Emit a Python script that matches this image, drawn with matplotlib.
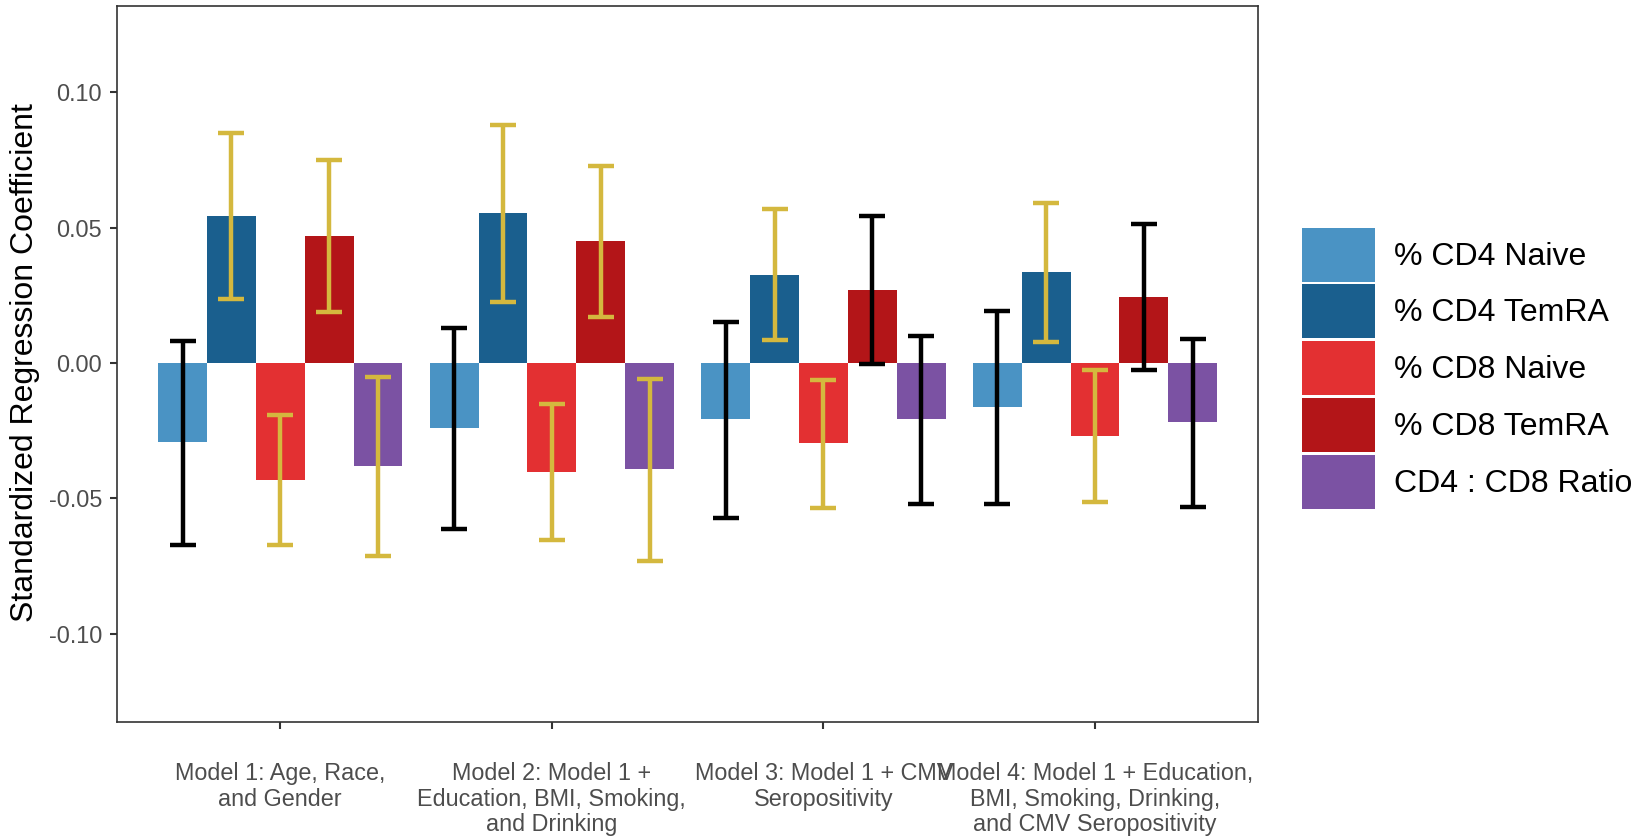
import matplotlib
matplotlib.use("Agg")
import matplotlib.pyplot as plt
from matplotlib.patches import Patch
import numpy as np

plt.rcParams['font.family'] = ['Liberation Sans', 'DejaVu Sans']

# Models on the x axis
models = [
    "Model 1: Age, Race,\nand Gender",
    "Model 2: Model 1 +\nEducation, BMI, Smoking,\nand Drinking",
    "Model 3: Model 1 + CMV\nSeropositivity",
    "Model 4: Model 1 + Education,\nBMI, Smoking, Drinking,\nand CMV Seropositivity",
]

cell_types = ["% CD4 Naive", "% CD4 TemRA", "% CD8 Naive", "% CD8 TemRA", "CD4 : CD8 Ratio"]
bar_colors = ["#4A93C4", "#1A5F8E", "#E33032", "#B31518", "#7B52A3"]

# Standardized coefficients and 95% CI bounds, one value per model
cd4_naive_est = [-0.0290, -0.0239, -0.0208, -0.0164]
cd4_naive_lo = [-0.0671, -0.0614, -0.0573, -0.0522]
cd4_naive_hi = [0.0081, 0.0129, 0.0150, 0.0192]

cd4_temra_est = [0.0543, 0.0555, 0.0325, 0.0335]
cd4_temra_lo = [0.0235, 0.0224, 0.0084, 0.0076]
cd4_temra_hi = [0.0851, 0.0881, 0.0568, 0.0592]

cd8_naive_est = [-0.0433, -0.0402, -0.0297, -0.0268]
cd8_naive_lo = [-0.0673, -0.0655, -0.0537, -0.0514]
cd8_naive_hi = [-0.0192, -0.0151, -0.0061, -0.0026]

cd8_temra_est = [0.0470, 0.0452, 0.0268, 0.0243]
cd8_temra_lo = [0.0188, 0.0169, -0.0004, -0.0027]
cd8_temra_hi = [0.0749, 0.0729, 0.0542, 0.0513]

ratio_est = [-0.0381, -0.0390, -0.0208, -0.0218]
ratio_lo = [-0.0714, -0.0730, -0.0522, -0.0532]
ratio_hi = [-0.0053, -0.0058, 0.0100, 0.0089]

y_ticks = [-0.10, -0.05, 0.00, 0.05, 0.10]
y_tick_labels = ["-0.10", "-0.05", "0.00", "0.05", "0.10"]

estimates = [cd4_naive_est, cd4_temra_est, cd8_naive_est, cd8_temra_est, ratio_est]
lowers = [cd4_naive_lo, cd4_temra_lo, cd8_naive_lo, cd8_temra_lo, ratio_lo]
uppers = [cd4_naive_hi, cd4_temra_hi, cd8_naive_hi, cd8_temra_hi, ratio_hi]

SIG_COLOR = "#D4B83E"   # CI excludes zero
NS_COLOR = "black"

fig = plt.figure(figsize=(16.41, 8.38), dpi=100)
ax = fig.add_axes([0.0715, 0.1388, 0.6951, 0.8544])

x = np.arange(1, len(models) + 1)
width = 0.18

for j, (est, lo, hi) in enumerate(zip(estimates, lowers, uppers)):
    xpos = x + (j - 2) * width
    ax.bar(xpos, est, width=width, color=bar_colors[j], edgecolor="none", zorder=2)
    for xi, e, l, h in zip(xpos, est, lo, hi):
        significant = l > 0 or h < 0
        ax.errorbar(xi, e, yerr=[[e - l], [h - e]], fmt="none",
                    ecolor=SIG_COLOR if significant else NS_COLOR,
                    elinewidth=3.2, capsize=9.7, capthick=3.2, zorder=3)

ax.set_xlim(0.4, 4.6)
ax.set_ylim(-0.1325, 0.132)
ax.set_xticks(x)
ax.set_xticklabels(models, fontsize=16.8, color="#4D4D4D", linespacing=1.15)
ax.set_yticks(y_ticks)
ax.set_yticklabels(y_tick_labels, fontsize=16.8, color="#4D4D4D")
ax.tick_params(axis="both", length=5, width=1.5, color="#333333")
ax.tick_params(axis="x", pad=24)
ax.tick_params(axis="y", pad=6)

for spine in ax.spines.values():
    spine.set_color("#333333")
    spine.set_linewidth(1.2)

fig.text(25 / 1641, 0.5 + (838 / 2 - 363) / 838, "Standardized Regression Coefficient",
         rotation=90, ha="center", va="center", fontsize=23)

handles = [Patch(facecolor=c, edgecolor="none") for c in bar_colors]
fig.legend(handles, cell_types, loc="upper left",
           bbox_to_anchor=(1302 / 1641, 1 - 227.7 / 838),
           frameon=False, fontsize=23, borderpad=0, borderaxespad=0,
           handlelength=2.28, handleheight=2.22, labelspacing=0.09,
           handletextpad=0.6)

fig.savefig("out.png", dpi=100)
